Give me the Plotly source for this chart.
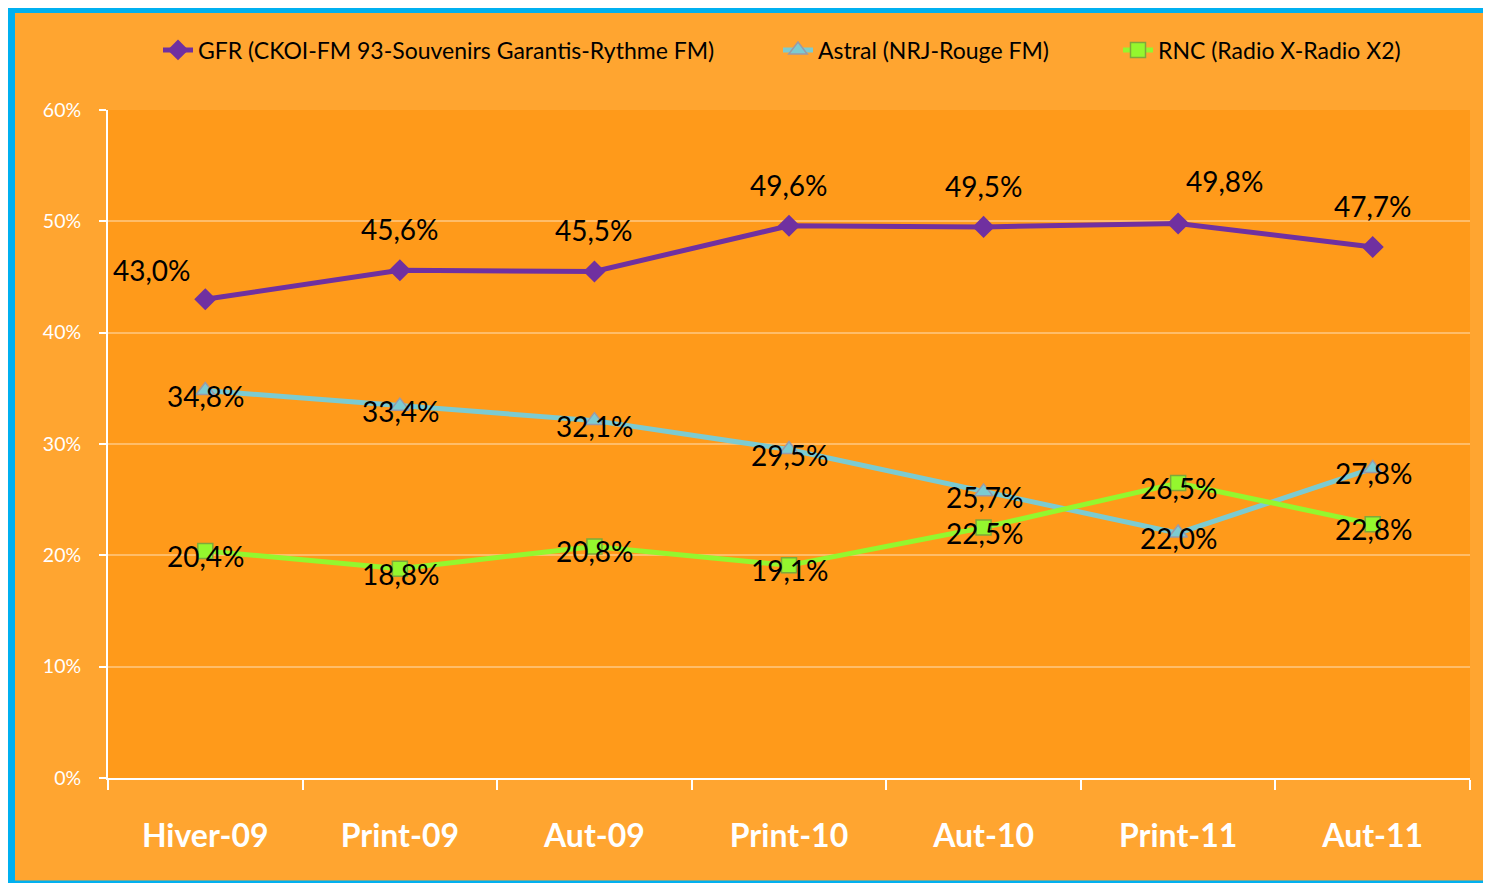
import plotly.graph_objects as go

periods = ["Hiver-09", "Print-09", "Aut-09", "Print-10", "Aut-10", "Print-11", "Aut-11"]
gfr = [43.0, 45.6, 45.5, 49.6, 49.5, 49.8, 47.7]
astral = [34.8, 33.4, 32.1, 29.5, 25.7, 22.0, 27.8]
rnc = [20.4, 18.8, 20.8, 19.1, 22.5, 26.5, 22.8]

series_names = ["GFR (CKOI-FM 93-Souvenirs Garantis-Rythme FM)",
                "Astral (NRJ-Rouge FM)",
                "RNC (Radio X-Radio X2)"]
y_ticks = [0, 10, 20, 30, 40, 50, 60]

FONT = "Lato"
OFF = 8  # page body margin
W, H = 1483, 875
L, T = 108 - OFF, 110 - OFF
PW, PH = 1362, 668
R = W - L - PW
B = H - T - PH


def px(x):  # screen px -> paper
    return (x - OFF - L) / PW


def py(y):
    return (T + PH - (y - OFF)) / PH


def fmt(v):
    return f"{v:.1f}".replace(".", ",") + "%"


LBL = dict(family=FONT, size=28, color="black")

fig = go.Figure()

fig.add_trace(go.Scatter(
    x=periods, y=gfr, name=series_names[0], mode="lines+markers", legend="legend",
    line=dict(color="#7030A0", width=5),
    marker=dict(symbol="diamond", size=17, color="#7030A0"),
))
fig.add_trace(go.Scatter(
    x=periods, y=astral, name=series_names[1], mode="lines+markers", legend="legend2",
    line=dict(color="#7CCBD1", width=5),
    marker=dict(symbol="triangle-up", size=16, color="#7CCBD1",
                line=dict(color="#9A9AA8", width=1.5)),
))
fig.add_trace(go.Scatter(
    x=periods, y=rnc, name=series_names[2], mode="lines+markers", legend="legend3",
    line=dict(color="#94F72E", width=5),
    marker=dict(symbol="square", size=15, color="#94F72E",
                line=dict(color="#7FA83A", width=1.5)),
))

# data labels
gfr_xshift = [-53, 0, 0, 0, 0, 47, 0]
gfr_yshift = [29, 41, 41, 41, 41, 43, 41]
for i, (p, v) in enumerate(zip(periods, gfr)):
    fig.add_annotation(x=p, y=v, text=fmt(v), showarrow=False,
                       xshift=gfr_xshift[i], yshift=gfr_yshift[i], font=LBL)
for series in (astral, rnc):
    for p, v in zip(periods, series):
        fig.add_annotation(x=p, y=v, text=fmt(v), showarrow=False,
                           xshift=1, yshift=-5, font=LBL)

BLUE = "#00B0F0"
shapes = [
    dict(type="line", xref="paper", yref="paper", x0=px(10.5), x1=px(10.5),
         y0=py(0), y1=py(H + OFF), line=dict(color=BLUE, width=9), layer="above"),
    dict(type="line", xref="paper", yref="paper", x0=px(6), x1=px(W + OFF),
         y0=py(8.5), y1=py(8.5), line=dict(color=BLUE, width=9), layer="above"),
    dict(type="line", xref="paper", yref="paper", x0=px(6), x1=px(W + OFF),
         y0=py(885), y1=py(885), line=dict(color=BLUE, width=9), layer="above"),
]

leg_common = dict(orientation="h", yanchor="middle", xanchor="left",
                  font=dict(family=FONT, size=23, color="black"),
                  bgcolor="rgba(0,0,0,0)", borderwidth=0)

fig.update_layout(
    width=W, height=H,
    margin=dict(l=L, r=R, t=T, b=B),
    paper_bgcolor="#FFA530",
    plot_bgcolor="#FF9A1A",
    font=dict(family=FONT, color="black"),
    showlegend=True,
    legend=dict(x=px(158), y=py(50), **leg_common),
    legend2=dict(x=px(778), y=py(50), **leg_common),
    legend3=dict(x=px(1118), y=py(50), **leg_common),
    shapes=shapes,
    xaxis=dict(type="category", range=[-0.5, 6.5], tickson="boundaries",
               ticks="outside", ticklen=10, tickwidth=2, tickcolor="white",
               showline=True, linecolor="white", linewidth=2, showgrid=False,
               tickfont=dict(family=FONT, size=32, color="white", weight="bold"),
               ticklabelstandoff=29, zeroline=False),
    yaxis=dict(range=[0, 60], tickvals=y_ticks, ticktext=[f"{v}%" for v in y_ticks],
               ticks="outside", ticklen=7, tickwidth=2, tickcolor="white",
               showline=True, linecolor="white", linewidth=2,
               showgrid=True, gridcolor="rgba(255,255,255,0.35)", gridwidth=1.5,
               tickfont=dict(family=FONT, size=19.5, color="white"),
               ticklabelstandoff=14, zeroline=False),
)

fig.write_html("out.html")
